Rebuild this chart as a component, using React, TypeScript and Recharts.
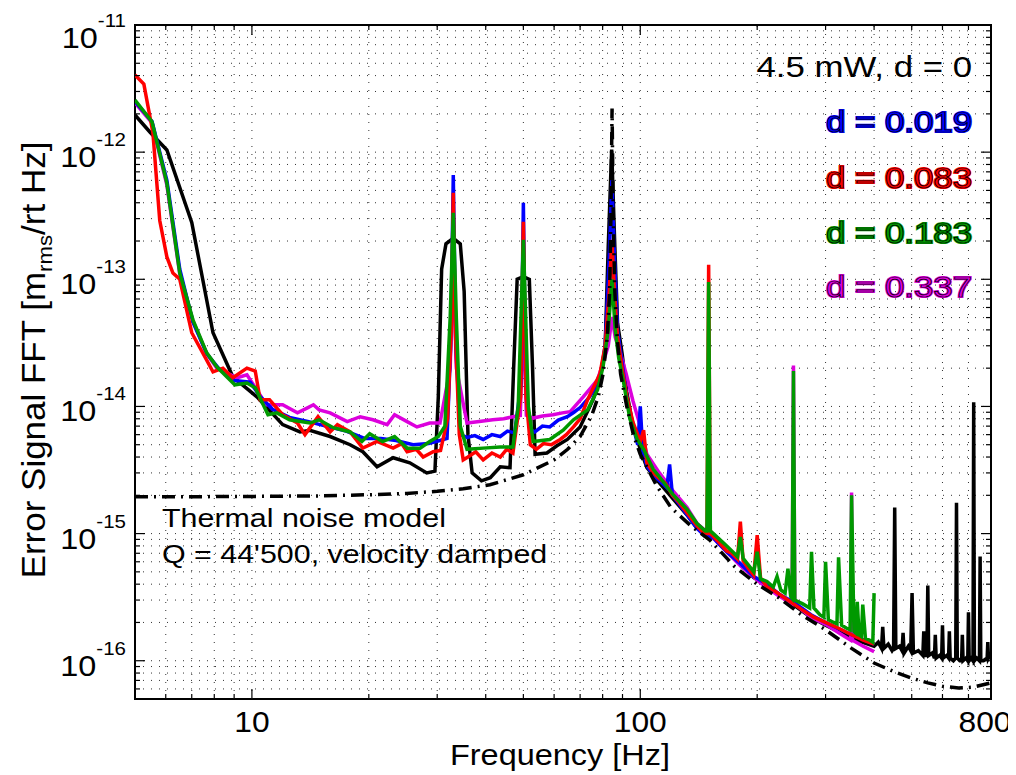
import React from "react";
import { LineChart, Line, XAxis, YAxis, ReferenceLine, ReferenceArea } from "recharts";

// measured spectra, [frequency Hz, amplitude m_rms/rtHz]
const black: [number, number][] = [
  [5.0, 1.96e-12], [5.46, 1.44e-12], [6.04, 1.04e-12], [7.0, 2.8e-13], [7.94, 3.8e-14],
  [8.93, 1.71e-14], [10.3, 1.19e-14], [12.0, 7.2e-15], [13.3, 6.3e-15], [14.1, 6.5e-15],
  [15.9, 5.8e-15], [17.9, 5.0e-15], [19.3, 4.4e-15], [21.0, 3.35e-15], [23.1, 3.95e-15],
  [25.5, 3.6e-15], [28.2, 3.0e-15], [29.6, 3.1e-15], [30.2, 1.2e-14], [30.8, 1.2e-13],
  [31.6, 1.9e-13], [33.0, 2.1e-13], [34.4, 1.9e-13], [35.2, 8e-14], [36.0, 6e-15],
  [36.9, 3.0e-15], [39.0, 2.6e-15], [41.1, 2.75e-15], [43.6, 3.35e-15], [46.2, 3.3e-15],
  [47.2, 2e-14], [48.2, 1.0e-13], [50.0, 1.05e-13], [51.8, 1.0e-13], [52.8, 2e-14], [53.6, 4.2e-15],
  [57.5, 4.3e-15], [61.0, 4.9e-15], [64.9, 5.5e-15], [70.0, 6.9e-15], [75.6, 1.13e-14],
  [78.7, 1.62e-14], [81.2, 2.9e-14], [82.7, 1.8e-13], [84.4, 1.05e-12], [86.0, 1.8e-13],
  [87.4, 4.5e-14], [89.8, 2.6e-14], [92.3, 1.3e-14], [95.8, 7e-15], [100, 4.6e-15],
  [104, 3.3e-15], [112, 2.5e-15], [121, 1.9e-15], [132, 1.4e-15], [140, 1.1e-15],
  [154, 9.5e-16], [167, 7.2e-16], [181, 5.7e-16], [196, 4.5e-16], [212, 3.9e-16],
  [229, 3.3e-16], [250, 2.7e-16], [275, 2.2e-16], [300, 1.9e-16], [330, 1.65e-16],
  [360, 1.45e-16], [400, 1.3e-16], [410, 1.4e-16], [418, 1.25e-16], [421, 1.85e-16],
  [424, 1.25e-16], [435, 1.35e-16], [445, 1.2e-16], [449, 1.25e-16], [452, 1.6e-15],
  [455, 1.25e-16], [465, 1.3e-16], [472, 1.2e-16], [475, 1.66e-16], [478, 1.15e-16],
  [490, 1.3e-16], [497, 1.2e-16], [501, 3.4e-16], [505, 1.15e-16], [520, 1.2e-16],
  [534, 1.1e-16], [537, 1.7e-16], [540, 1.1e-16], [547, 1.1e-16], [550, 3.9e-16],
  [553, 1.1e-16], [565, 1.15e-16], [572, 1.05e-16], [575, 1.6e-16], [578, 1.05e-16],
  [590, 1.1e-16], [597, 1.05e-16], [600, 1.9e-16], [603, 1.05e-16], [615, 1.1e-16],
  [622, 1.05e-16], [625, 1.7e-16], [628, 1.05e-16], [640, 1.0e-16], [649, 1.05e-16],
  [652, 1.75e-15], [655, 1.05e-16], [665, 1.0e-16], [672, 1.0e-16], [675, 1.6e-16],
  [678, 1.0e-16], [690, 1.05e-16], [697, 1.0e-16], [700, 2.4e-16], [703, 1.0e-16],
  [712, 1.05e-16], [719, 1.0e-16], [722, 1.08e-14], [725, 1.0e-16], [735, 1.05e-16],
  [747, 1.0e-16], [750, 6.6e-16], [753, 1.0e-16], [765, 1.0e-16], [782, 1.05e-16],
  [785, 1.4e-16], [788, 1.05e-16], [800, 1.15e-16],
];

const blue: [number, number][] = [
  [5.0, 2.5e-12], [5.53, 1.75e-12], [6.04, 6e-13], [6.52, 1.2e-13], [7.05, 4.6e-14], [7.65, 2.6e-14],
  [8.2, 2.0e-14], [9.0, 1.6e-14], [9.9, 1.55e-14], [10.5, 1.2e-14], [11.3, 9.5e-15], [12.5, 8.2e-15],
  [14.0, 7.6e-15], [15.5, 7.0e-15], [17.5, 6.4e-15], [19.5, 5.6e-15], [21.5, 5.6e-15], [23.5, 5.4e-15],
  [26.0, 5.0e-15], [28.5, 5.1e-15], [30.5, 5.4e-15], [31.8, 5.6e-15], [32.5, 3e-14], [33.0, 6.6e-13],
  [33.5, 3e-14], [34.4, 6.0e-15], [35.8, 5.7e-15], [37.5, 5.9e-15], [39.4, 5.5e-15], [41.5, 6.0e-15],
  [43.6, 5.8e-15], [45.5, 6.4e-15], [47.5, 6.2e-15], [49.3, 1.5e-14], [50.0, 4.0e-13], [50.7, 1.5e-14],
  [52.0, 6.6e-15], [53.5, 6.3e-15], [56.0, 7.0e-15], [58.5, 6.9e-15], [61.5, 7.8e-15], [64.9, 8.3e-15],
  [67.5, 9.0e-15], [70.0, 9.8e-15], [74.1, 1.19e-14], [78.7, 1.62e-14], [81.2, 3.0e-14], [83.2, 1.5e-13],
  [84.5, 6.0e-13], [85.8, 1.5e-13], [87.4, 4e-14], [89.8, 2.2e-14], [92.3, 1.2e-14], [95.8, 7e-15],
  [98.5, 5e-15], [100, 1.0e-14], [101.5, 4.5e-15], [104, 3.4e-15], [108, 2.9e-15], [112, 2.6e-15],
  [117, 2.3e-15], [119, 3.5e-15], [121, 2.0e-15], [126, 1.7e-15], [132, 1.4e-15], [140, 1.1e-15],
  [147, 9.5e-16], [154, 9.3e-16], [160, 8.2e-16], [167, 7.2e-16], [181, 5.8e-16], [196, 4.6e-16],
  [212, 4.0e-16], [229, 3.3e-16], [248, 2.9e-16], [275, 2.3e-16], [300, 2.0e-16], [350, 1.6e-16],
  [400, 1.35e-16],
];

const red: [number, number][] = [
  [5.0, 4.05e-12], [5.27, 3.43e-12], [5.56, 1.42e-12], [5.79, 2.9e-13], [6.04, 1.5e-13],
  [6.26, 1.12e-13], [6.52, 1.0e-13], [7.0, 3.8e-14], [7.94, 1.87e-14], [8.42, 2.0e-14],
  [8.93, 1.68e-14], [9.71, 2.0e-14], [10.2, 1.9e-14], [10.5, 1.13e-14], [11.1, 1.13e-14],
  [12.0, 8.6e-15], [13.1, 7.4e-15], [13.7, 6.0e-15], [14.8, 8.3e-15], [15.9, 6.3e-15],
  [16.6, 7.2e-15], [17.9, 6.3e-15], [19.3, 4.7e-15], [21.0, 5.3e-15], [23.1, 4.7e-15],
  [24.3, 5.1e-15], [25.1, 4.4e-15], [26.5, 4.6e-15], [27.6, 4.0e-15], [29.3, 4.4e-15],
  [30.6, 4.5e-15], [31.9, 8e-15], [32.6, 4e-14], [33.0, 4.8e-13], [33.4, 4e-14], [34.2, 6e-15],
  [35.0, 3.8e-15], [36.0, 4.0e-15], [37.7, 4.4e-15], [39.4, 3.8e-15], [41.5, 4.3e-15],
  [43.6, 4.0e-15], [45.3, 4.6e-15], [47.0, 4.3e-15], [49.2, 1.2e-14], [50.0, 2.83e-13],
  [50.8, 1.2e-14], [52.1, 5.0e-15], [54.0, 4.6e-15], [56.3, 5.1e-15], [59.0, 5.0e-15],
  [62.2, 5.5e-15], [64.5, 6.0e-15], [67.3, 6.9e-15], [70.0, 8.0e-15], [73.2, 1.13e-14],
  [78.7, 1.8e-14], [81.2, 3.0e-14], [83.2, 8e-14], [84.5, 2.04e-13], [85.8, 8e-14], [87.4, 3.5e-14],
  [89.8, 2.0e-14], [92.3, 1.2e-14], [95.8, 7.5e-15], [100, 5.3e-15], [102, 6.5e-15], [104, 3.6e-15],
  [108, 3.0e-15], [112, 2.7e-15], [116, 2.5e-15], [121, 2.0e-15], [126, 1.75e-15], [132, 1.45e-15],
  [140, 1.15e-15], [146, 1.0e-15], [148.5, 1.0e-15], [150, 1.3e-13], [151.5, 1.0e-15], [158, 8.8e-16],
  [167, 7.3e-16], [172, 7.0e-16], [178, 6.3e-16], [181, 1.24e-15], [184, 6.1e-16], [190, 5.3e-16],
  [196, 4.7e-16], [200, 9.7e-16], [204, 4.5e-16], [212, 3.8e-16], [220, 3.6e-16], [229, 3.3e-16],
  [240, 3.0e-16], [248, 2.8e-16], [262, 2.5e-16], [280, 2.2e-16], [300, 2.0e-16], [324, 1.8e-16],
  [350, 1.6e-16], [375, 1.45e-16], [400, 1.35e-16],
];

const magenta: [number, number][] = [
  [5.0, 2.44e-12], [5.53, 1.7e-12], [6.04, 5.5e-13], [6.52, 1.1e-13], [7.05, 4.7e-14], [7.65, 2.6e-14],
  [8.12, 2.0e-14], [9.15, 1.68e-14], [9.71, 1.77e-14], [10.9, 1.03e-14], [12.0, 1.03e-14],
  [13.1, 8.9e-15], [13.9, 9.75e-15], [14.4, 1.03e-14], [14.9, 9.4e-15], [15.9, 8.9e-15],
  [17.6, 7.6e-15], [19.0, 8.3e-15], [20.5, 7.85e-15], [22.3, 7.2e-15], [23.3, 8.6e-15],
  [25.1, 7.6e-15], [26.6, 6.9e-15], [28.7, 7.4e-15], [30.5, 7.4e-15], [32.4, 2e-14], [33.0, 1.5e-13],
  [33.6, 2e-14], [35.8, 7.4e-15], [38.5, 7.6e-15], [41.7, 7.85e-15], [44.5, 8.0e-15], [47.0, 8.3e-15],
  [49.1, 8.5e-15], [50.0, 6e-14], [50.9, 8.5e-15], [53.0, 8.1e-15], [56.0, 8.4e-15], [59.6, 8.6e-15],
  [63.0, 8.9e-15], [66.0, 9.1e-15], [71.3, 1.19e-14], [77.6, 1.62e-14], [80.2, 2.2e-14], [82.7, 3.0e-14],
  [84.6, 5.06e-14], [86.2, 3.5e-14], [89.0, 2.6e-14], [92.0, 1.8e-14], [95.8, 1.1e-14], [100, 7e-15],
  [104, 4.2e-15], [112, 3.0e-15], [121, 2.2e-15], [132, 1.6e-15], [140, 1.2e-15], [150, 1.0e-15],
  [167, 7.2e-16], [181, 5.6e-16], [204, 4.1e-16], [225, 3.3e-16], [246, 2.8e-16], [248, 2.1e-14],
  [250, 2.8e-16], [275, 2.2e-16], [303, 1.9e-16], [325, 1.65e-16], [348, 1.45e-16], [350, 2.1e-15],
  [352, 1.45e-16], [375, 1.3e-16], [400, 1.18e-16],
];

const green: [number, number][] = [
  [5.0, 2.57e-12], [5.53, 1.73e-12], [6.04, 5.7e-13], [6.52, 1.12e-13], [7.05, 4.8e-14], [7.65, 2.64e-14],
  [8.12, 2.05e-14], [9.04, 1.48e-14], [9.71, 1.53e-14], [10.2, 1.4e-14], [11.0, 8.6e-15], [11.6, 8.9e-15],
  [12.5, 7.85e-15], [14.1, 7.4e-15], [14.9, 7.85e-15], [16.2, 6.8e-15], [17.9, 6.3e-15], [19.2, 5.3e-15],
  [20.1, 6.1e-15], [21.7, 5.3e-15], [23.3, 5.8e-15], [25.1, 4.7e-15], [27.1, 4.7e-15], [28.7, 5.3e-15],
  [30.2, 5.8e-15], [31.4, 7e-15], [32.4, 5e-14], [33.0, 3.33e-13], [33.6, 5e-14], [34.4, 7e-15],
  [35.8, 4.6e-15], [39.4, 4.7e-15], [43.6, 4.8e-15], [47.0, 4.8e-15], [48.5, 1e-14], [50.0, 2.04e-13],
  [51.5, 1e-14], [53.0, 5.3e-15], [58.5, 5.5e-15], [63.3, 6.5e-15], [67.3, 7.85e-15], [73.2, 9.4e-15],
  [77.6, 1.35e-14], [80.2, 2.05e-14], [82.7, 4e-14], [84.6, 1.0e-13], [86.2, 4e-14], [88.0, 2.4e-14],
  [90.4, 1.6e-14], [94.0, 8e-15], [98.2, 5.5e-15], [102, 4.6e-15], [108, 3.2e-15], [112, 2.8e-15],
  [121, 2.05e-15], [132, 1.55e-15], [140, 1.2e-15], [147, 1.05e-15], [148.5, 1.05e-15], [150, 9.5e-14],
  [151.5, 1.05e-15], [160, 9.0e-16], [167, 8.0e-16], [178, 6.6e-16], [181, 9.4e-16], [184, 6.4e-16],
  [196, 5.0e-16], [200, 7.2e-16], [204, 4.4e-16], [212, 4.2e-16], [220, 3.8e-16], [225, 4.6e-16],
  [230, 3.6e-16], [236, 3.4e-16], [240, 5.3e-16], [244, 3.2e-16], [246, 3.1e-16], [248, 1.9e-14],
  [250, 3.0e-16], [262, 2.8e-16], [273, 2.6e-16], [276, 7.2e-16], [280, 2.6e-16], [290, 2.3e-16],
  [297, 2.2e-16], [300, 6.0e-16], [305, 2.1e-16], [315, 2.0e-16], [321, 1.95e-16], [324, 6.5e-16],
  [330, 1.9e-16], [340, 1.8e-16], [347, 1.75e-16], [350, 2.0e-15], [355, 1.7e-16], [359, 1.65e-16],
  [362, 2.9e-16], [366, 1.6e-16], [371, 1.55e-16], [374, 2.76e-16], [380, 1.5e-16], [390, 1.45e-16],
  [397, 1.4e-16], [400, 3.4e-16],
];

// Thermal noise model, Q = 44'500, velocity damped
const thermal: [number, number][] = [
  [5, 1.95e-15], [7, 1.95e-15], [10, 1.96e-15], [15, 1.98e-15], [20, 2.02e-15], [25, 2.07e-15],
  [30, 2.15e-15], [35, 2.25e-15], [41, 2.42e-15], [50, 2.9e-15], [60, 3.8e-15], [65, 4.6e-15],
  [70, 5.8e-15], [75, 8.5e-15], [78, 1.2e-14], [80.2, 1.8e-14], [82.2, 3.5e-14], [83.4, 8e-14],
  [84.0, 3e-13], [84.6, 2.2e-12], [85.2, 3e-13], [86.0, 8e-14], [87.2, 3.5e-14], [89, 1.8e-14],
  [92.3, 1e-14], [96, 6e-15], [100, 4.2e-15], [110, 2.4e-15], [120, 1.6e-15], [135, 1.15e-15],
  [151, 8.9e-16], [175, 5.5e-16], [200, 4.0e-16], [225, 3.2e-16], [260, 2.3e-16], [300, 1.75e-16],
  [350, 1.25e-16], [400, 9.6e-17], [450, 8.2e-17], [500, 7.3e-17], [550, 6.7e-17], [600, 6.3e-17],
  [660, 6.1e-17], [720, 6.2e-17], [800, 6.7e-17],
];

const xLabelTicks = [10, 100, 800];
const xGrid = [6, 7, 8, 9, 10, 20, 30, 40, 50, 60, 70, 80, 90, 100, 200, 300, 400, 500, 600, 700];
const yDecades = [1e-16, 1e-15, 1e-14, 1e-13, 1e-12, 1e-11];
const yGrid = [6e-17, 7e-17, 8e-17, 9e-17].concat(
  ...yDecades.slice(0, 5).map((d) => [1, 2, 3, 4, 5, 6, 7, 8, 9].map((m) => m * d))
);
const yTicks = yGrid.concat([1e-11]);
const xTicks = xGrid.concat([800]);

const W = 1008;
const H = 767;
const M = { top: 17, right: 25, bottom: 16, left: 27 };
const YW = 100;
const XH = 60;
const PL = M.left + YW;
const PR = W - M.right;
const PT = M.top;
const PB = H - M.bottom - XH;
const FONT = "'Liberation Sans', Arial, Helvetica, sans-serif";
const LW = 3.5;

const pts = (a: [number, number][]) => a.map(([f, v]) => ({ f, v }));

const YTick = (props: any) => {
  const { y, payload } = props;
  const lg = Math.log10(payload.value);
  const e = Math.round(lg);
  const major = Math.abs(lg - e) < 1e-6;
  const len = major ? 10 : 5;
  const shift = e === -11 ? 8 : 0;
  return (
    <g>
      <line x1={PL} x2={PL + len} y1={y} y2={y} stroke="#000" strokeWidth={1.2} />
      <line x1={PR} x2={PR - len} y1={y} y2={y} stroke="#000" strokeWidth={1.2} />
      {major && (
        <text
          transform={`translate(${PL - 9},${y + 15 + shift}) scale(1.08,1)`}
          textAnchor="end"
          fontFamily={FONT}
          fontSize={30}
          fill="#000"
        >
          10
          <tspan dy={-21} fontSize={19}>
            {String(e)}
          </tspan>
        </text>
      )}
    </g>
  );
};

const XTick = (props: any) => {
  const { x, payload } = props;
  const v = payload.value;
  const len = v === 10 || v === 100 ? 10 : 5;
  // the right-most label sits slightly inside so it stays on the page
  const nudge = v === 800 ? -6 : 0;
  return (
    <g>
      {v < 800 && (
        <>
          <line x1={x} x2={x} y1={PB} y2={PB - len} stroke="#000" strokeWidth={1.2} />
          <line x1={x} x2={x} y1={PT} y2={PT + len} stroke="#000" strokeWidth={1.2} />
        </>
      )}
      {xLabelTicks.includes(v) && (
        <text
          transform={`translate(${x + nudge},${PB + 33}) scale(1.06,1)`}
          textAnchor="middle"
          fontFamily={FONT}
          fontSize={30}
          fill="#000"
        >
          {v}
        </text>
      )}
    </g>
  );
};

const legend = [
  { text: "d = 0.019", color: "#0000ff", y: 124 },
  { text: "d = 0.083", color: "#ff0000", y: 180 },
  { text: "d = 0.183", color: "#009900", y: 235 },
  { text: "d = 0.337", color: "#dd00dd", y: 289 },
];

export default function App() {
  return (
    <div style={{ position: "relative", width: W, height: H }}>
      <LineChart width={W} height={H} margin={M}>
        <XAxis
          type="number"
          dataKey="f"
          scale="log"
          domain={[5, 800]}
          ticks={xTicks}
          interval={0}
          allowDataOverflow
          axisLine={false}
          tickLine={false}
          tick={XTick}
          height={XH}
        />
        <YAxis
          type="number"
          scale="log"
          domain={[5e-17, 1e-11]}
          ticks={yTicks}
          interval={0}
          allowDataOverflow
          axisLine={false}
          tickLine={false}
          tick={YTick}
          width={YW}
        />
        {xGrid.map((f) => (
          <ReferenceLine key={"x" + f} x={f} stroke="#333" strokeWidth={1} strokeDasharray="1 7" />
        ))}
        {yGrid.map((v, i) => (
          <ReferenceLine key={"y" + i} y={v} stroke="#333" strokeWidth={1} strokeDasharray="1 7" />
        ))}
        <Line data={pts(black)} dataKey="v" type="linear" stroke="#000000" strokeWidth={LW} dot={false} isAnimationActive={false} />
        <Line data={pts(magenta)} dataKey="v" type="linear" stroke="#dd00dd" strokeWidth={LW} dot={false} isAnimationActive={false} />
        <Line data={pts(blue)} dataKey="v" type="linear" stroke="#0000ff" strokeWidth={LW} dot={false} isAnimationActive={false} />
        <Line data={pts(red)} dataKey="v" type="linear" stroke="#ff0000" strokeWidth={LW} dot={false} isAnimationActive={false} />
        <Line data={pts(green)} dataKey="v" type="linear" stroke="#009900" strokeWidth={LW} dot={false} isAnimationActive={false} />
        <Line
          data={pts(thermal)}
          dataKey="v"
          type="linear"
          stroke="#000000"
          strokeWidth={3.5}
          strokeDasharray="13 6 2 6"
          dot={false}
          isAnimationActive={false}
        />
        <ReferenceArea x1={5} x2={800} y1={5e-17} y2={1e-11} fill="none" stroke="#000" strokeWidth={2} ifOverflow="visible" />
      </LineChart>
      <svg
        width={W}
        height={H}
        style={{ position: "absolute", left: 0, top: 0, pointerEvents: "none" }}
        fontFamily={FONT}
      >
        <text transform="translate(964,69) scale(1.2,1)" textAnchor="end" fontSize={29} fill="#000">
          4.5 mW, d = 0
        </text>
        {legend.map((l) => (
          <g key={l.text}>
            <text transform={`translate(964,${l.y}) scale(1.2,1)`} textAnchor="end" fontSize={29} fill={l.color} stroke={l.color} strokeWidth={2.2}>
              {l.text}
            </text>
            <text transform={`translate(964,${l.y}) scale(1.2,1)`} textAnchor="end" fontSize={29} fill={l.color} stroke="#000" strokeWidth={0.7}>
              {l.text}
            </text>
          </g>
        ))}
        <text transform="translate(154,519) scale(1.17,1)" fontSize={26} fill="#000">
          Thermal noise model
        </text>
        <text transform="translate(154,555) scale(1.17,1)" fontSize={26} fill="#000">
          Q = 44'500, velocity damped
        </text>
        <text transform="translate(552,757) scale(1.12,1)" textAnchor="middle" fontSize={29} fill="#000">
          Frequency [Hz]
        </text>
        <text transform="translate(37,352) rotate(-90) scale(1.06,1)" textAnchor="middle" fontSize={33} fill="#000">
          Error Signal FFT [m
          <tspan fontSize={21} dy={7}>
            rms
          </tspan>
          <tspan fontSize={33} dy={-7}>
            /rt Hz]
          </tspan>
        </text>
      </svg>
    </div>
  );
}
